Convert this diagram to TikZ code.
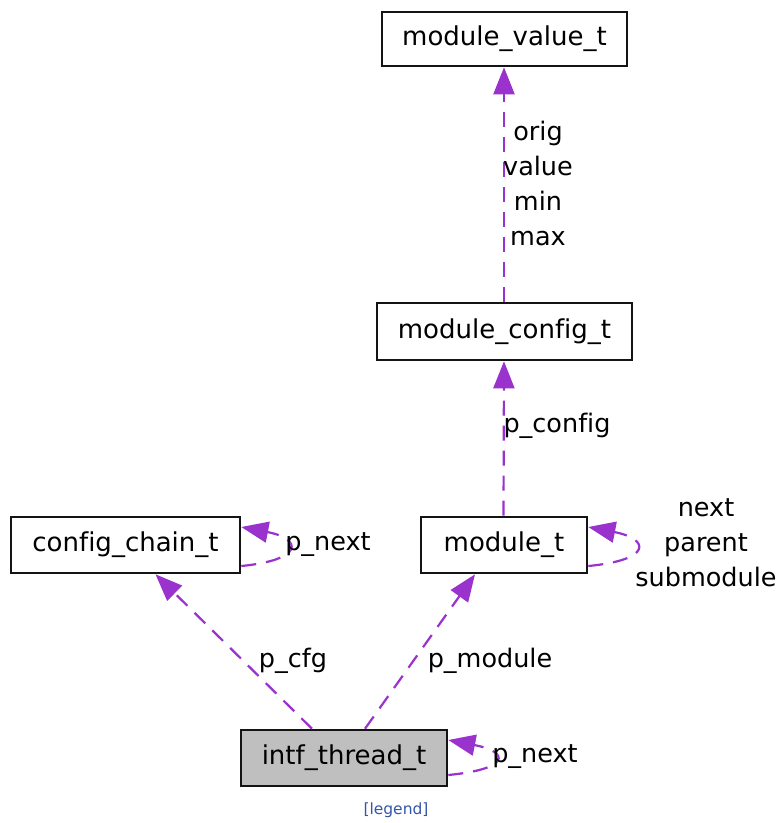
\documentclass[tikz,border=0pt]{standalone}
\usepackage{fontspec}
\setmainfont[Ligatures=NoCommon]{DejaVu Sans}
\usetikzlibrary{arrows.meta}
\definecolor{dep}{RGB}{154,50,205}
\definecolor{boxline}{RGB}{20,20,20}
\definecolor{legendblue}{RGB}{51,85,170}
\begin{document}
\begin{tikzpicture}[x=1pt,y=1pt,
  cls/.style={draw=boxline,line width=2.6pt,fill=white,inner sep=0pt,
    minimum height=56pt,font=\fontsize{26}{30}\selectfont},
  depline/.style={draw=dep,line width=2.2pt,dash pattern=on 15pt off 10pt,
    -{Triangle[length=27pt,width=21pt]}},
  lbl/.style={font=\fontsize{25.5}{35}\selectfont,align=center,inner sep=0pt}]
\useasboundingbox[fill=white] (0,0) rectangle (779,-823);
% nodes
\node[cls,minimum width=245pt,minimum height=54pt] (mv) at (504.5,-39) {module\_value\_t};
\node[cls,minimum width=255pt,minimum height=57pt] (mc) at (504.5,-331.5) {module\_config\_t};
\node[cls,minimum width=229pt] (cc) at (125.5,-545) {config\_chain\_t};
\node[cls,minimum width=166pt] (m) at (504,-545) {module\_t};
\node[cls,minimum width=206pt,fill={rgb,255:red,191;green,191;blue,191}] (i) at (344,-758) {intf\_thread\_t};
\node[font=\fontsize{15.5}{18}\selectfont,text=legendblue,inner sep=0pt] (lg) at (396,-810) {[legend]};
% edges
\draw[depline] ([xshift=-0.5pt]mc.north) -- ([xshift=-0.5pt]mv.south);
\node[lbl] (l1) at (538,-183) {orig\\value\\min\\max};
\draw[depline] ([xshift=-0.5pt]m.north) -- ([xshift=-0.5pt]mc.south);
\node[lbl] (l2) at (557,-426) {p\_config};
\draw[depline] ([xshift=-32pt]i.north) -- ([xshift=30pt]cc.south);
\node[lbl] (l3) at (293,-661) {p\_cfg};
\draw[depline] ([xshift=21pt]i.north) -- ([xshift=-29pt]m.south);
\node[lbl] (l4) at (490,-661) {p\_module};
% self loops
\draw[depline] ([yshift=-21pt]cc.east) .. controls +(62,6) and +(62,-12) .. ([yshift=18pt]cc.east);
\node[lbl] (l5) at (328,-545) {p\_next};
\draw[depline] ([yshift=-21pt]m.east) .. controls +(64,6) and +(62,-12) .. ([yshift=18pt]m.east);
\node[lbl] (l6) at (706,-543) {next\\parent\\submodule};
\draw[depline] ([yshift=-17pt]i.east) .. controls +(62,6) and +(62,-12) .. ([yshift=18pt]i.east);
\node[lbl] (l7) at (535,-757) {p\_next};
\end{tikzpicture}
\end{document}
